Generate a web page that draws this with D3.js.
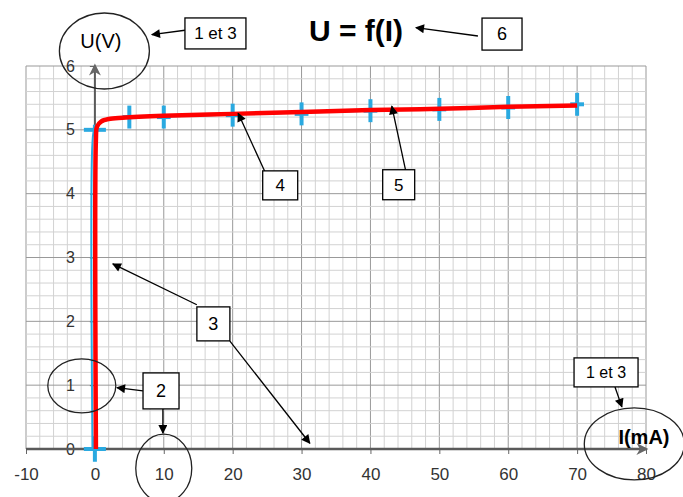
<!DOCTYPE html>
<html>
<head>
<meta charset="utf-8">
<script src="https://cdn.jsdelivr.net/npm/d3@7"></script>
<style>
  body { margin: 0; background: white; }
  text { font-family: "Liberation Sans", Arial, sans-serif; }
</style>
</head>
<body>
<div id="Canvas"></div>
<script>
// points mesurés (I en mA, U en V) + incertitudes
let mes_I = [0, 0, 5, 10, 20, 30, 40, 50, 60, 70]
let mes_U = [0, 5.0, 5.2, 5.2, 5.23, 5.25, 5.3, 5.32, 5.35, 5.4]
let err_I = [1.6, 1.6, 1, 1, 1, 1, 1, 1, 1, 1]
let err_U = [0.2, 0.08, 0.18, 0.18, 0.18, 0.18, 0.18, 0.18, 0.18, 0.18]
// courbe modélisée (rouge)
let mod_I = [0.15, 0.15, 0.3, 0.9, 2, 4, 10, 20, 30, 40, 50, 60, 70]
let mod_U = [0, 4.85, 5.05, 5.13, 5.17, 5.19, 5.22, 5.25, 5.28, 5.31, 5.33, 5.36, 5.38]
// tracé fin bleu
let blue_I = [-0.35, -0.35, -0.1, 0.6, 2, 5, 10, 20, 30, 40, 50, 60, 70]
let blue_U = [0, 4.8, 5.0, 5.1, 5.16, 5.19, 5.21, 5.24, 5.27, 5.3, 5.33, 5.36, 5.39]
let x_ticks = [-10, 0, 10, 20, 30, 40, 50, 60, 70, 80]
let y_ticks = [0, 1, 2, 3, 4, 5, 6]

let svg = d3.select("#Canvas").append("svg")
    .attr("width", 683).attr("height", 497)
    .style("background", "white")

let X = d3.scaleLinear().domain([-10, 80]).range([26, 646])
let Y = d3.scaleLinear().domain([0, 6]).range([449, 66])

let defs = svg.append("defs")
defs.append("marker").attr("id", "fl")
    .attr("viewBox", "0 0 10 10").attr("refX", 9).attr("refY", 5)
    .attr("markerWidth", 11).attr("markerHeight", 9)
    .attr("markerUnits", "userSpaceOnUse").attr("orient", "auto")
    .append("path").attr("d", "M0,0 L10,5 L0,10 z").attr("fill", "black")
defs.append("marker").attr("id", "fl_gris")
    .attr("viewBox", "0 0 10 10").attr("refX", 8).attr("refY", 5)
    .attr("markerWidth", 16).attr("markerHeight", 12)
    .attr("markerUnits", "userSpaceOnUse").attr("orient", "auto")
    .append("path").attr("d", "M0,0 L10,5 L0,10 L3,5 z").attr("fill", "#666")

// quadrillage
let vx = d3.range(0, 46).map(i => -10 + i * 2)
let hy = d3.range(0, 31).map(i => i / 5)
let grid = svg.append("g").attr("id", "grille")
grid.selectAll(".v").data(vx).enter().append("line")
    .attr("x1", d => X(d)).attr("x2", d => X(d))
    .attr("y1", Y(0)).attr("y2", Y(6))
    .style("stroke", d => d % 10 === 0 ? "#999" : "#d2d2d2")
    .style("stroke-width", 1)
grid.selectAll(".h").data(hy).enter().append("line")
    .attr("y1", d => Y(d)).attr("y2", d => Y(d))
    .attr("x1", X(-10)).attr("x2", X(80))
    .style("stroke", (d, i) => i % 5 === 0 ? "#999" : "#d2d2d2")
    .style("stroke-width", 1)

// axes
let x_axis = d3.axisBottom(X).tickValues(x_ticks).tickSize(5).tickPadding(14)
    .tickFormat(d => String(d))
svg.append("g").attr("transform", "translate(0," + Y(0) + ")").call(x_axis)
    .call(g => g.select(".domain").remove())
    .call(g => g.selectAll("line").attr("stroke", "#666"))
    .call(g => g.selectAll("text").attr("fill", "#333").style("font-size", "17px"))
let y_axis = d3.axisLeft(Y).tickValues(y_ticks).tickSize(5).tickPadding(15)
    .tickFormat(d => String(d))
svg.append("g").attr("transform", "translate(" + X(0) + ",0)").call(y_axis)
    .call(g => g.select(".domain").remove())
    .call(g => g.selectAll("line").attr("stroke", "#666"))
    .call(g => g.selectAll("text").attr("fill", "#333").style("font-size", "16px"))

svg.append("line").attr("x1", X(-10)).attr("x2", X(80)).attr("y1", Y(0)).attr("y2", Y(0))
    .attr("stroke", "#5a5a5a").attr("stroke-width", 2.5).attr("marker-end", "url(#fl_gris)")
svg.append("line").attr("x1", X(0)).attr("x2", X(0)).attr("y1", Y(0)).attr("y2", Y(6))
    .attr("stroke", "#5a5a5a").attr("stroke-width", 2).attr("marker-end", "url(#fl_gris)")

// croix de mesure
let bleu = "#2aa9e0"
let croix = svg.append("g").attr("id", "croix")
mes_I.forEach(function(d, i){
    croix.append("line").attr("x1", X(d - err_I[i])).attr("x2", X(d + err_I[i]))
        .attr("y1", Y(mes_U[i])).attr("y2", Y(mes_U[i]))
        .attr("stroke", bleu).attr("stroke-width", 4)
    croix.append("line").attr("x1", X(d)).attr("x2", X(d))
        .attr("y1", Y(mes_U[i] - err_U[i])).attr("y2", Y(mes_U[i] + err_U[i]))
        .attr("stroke", bleu).attr("stroke-width", 4)
})

let l = d3.line().x(d => X(d[0])).y(d => Y(d[1])).curve(d3.curveCatmullRom.alpha(0.5))
svg.append("path").attr("d", l(d3.zip(blue_I, blue_U)))
    .attr("fill", "none").attr("stroke", bleu).attr("stroke-width", 2)
svg.append("path").attr("d", l(d3.zip(mod_I, mod_U)))
    .attr("fill", "none").attr("stroke", "#ff0000").attr("stroke-width", 4.5)

// titre et annotations
svg.append("text").attr("x", X(37.9)).attr("y", Y(6.56)).attr("dy", "0.35em")
    .attr("text-anchor", "middle").style("font-size", "30px").style("font-weight", "bold")
    .text("U = f(I)")

let ann = svg.append("g").attr("id", "annotations")
function fleche(i1, u1, i2, u2){
    ann.append("line").attr("x1", X(i1)).attr("y1", Y(u1)).attr("x2", X(i2)).attr("y2", Y(u2))
        .attr("stroke", "black").attr("stroke-width", 1.3).attr("marker-end", "url(#fl)")
}
function boite(i, u, w, h, txt, fs){
    ann.append("rect").attr("x", X(i) - w / 2).attr("y", Y(u) - h / 2)
        .attr("width", w).attr("height", h)
        .attr("fill", "white").attr("stroke", "black").attr("stroke-width", 1.3)
    ann.append("text").attr("x", X(i)).attr("y", Y(u)).attr("dy", "0.35em")
        .attr("text-anchor", "middle").style("font-size", fs + "px").text(txt)
}
function ovale(i, u, rx, ry){
    ann.append("ellipse").attr("cx", X(i)).attr("cy", Y(u)).attr("rx", rx).attr("ry", ry)
        .attr("fill", "none").attr("stroke", "#222").attr("stroke-width", 1.3)
}

fleche(55.6, 6.47, 46.6, 6.60)
boite(59.1, 6.50, 40, 32, "6", 18)

ovale(1.38, 6.235, 45, 38)
ann.append("text").attr("x", X(0.87)).attr("y", Y(6.39)).attr("dy", "0.35em")
    .attr("text-anchor", "middle").style("font-size", "20px").text("U(V)")
fleche(13.07, 6.56, 8.27, 6.49)
boite(17.5, 6.51, 61, 31, "1 et 3", 17)

fleche(24.7, 4.34, 20.8, 5.26)
boite(26.9, 4.13, 35, 29, "4", 17)
fleche(45.1, 4.37, 43.1, 5.37)
boite(44.1, 4.14, 32, 30, "5", 17)

fleche(14.8, 2.26, 2.6, 2.90)
fleche(19.6, 1.69, 31.2, 0.09)
boite(17.2, 1.96, 33, 34, "3", 18)

ovale(-1.9, 0.99, 34, 27)
fleche(6.97, 0.91, 3.2, 0.96)
fleche(9.87, 0.63, 9.87, 0.25)
boite(9.6, 0.91, 36, 36, "2", 18)
ovale(10.0, -0.30, 28, 34)

fleche(75.5, 0.97, 76.5, 0.66)
boite(74.2, 1.20, 64, 29, "1 et  3", 16)
ovale(78.3, 0.08, 50, 36)
ann.append("text").attr("x", X(79.7)).attr("y", Y(0.19)).attr("dy", "0.35em")
    .attr("text-anchor", "middle").style("font-size", "20px").style("font-weight", "bold")
    .text("I(mA)")
</script>
</body>
</html>
